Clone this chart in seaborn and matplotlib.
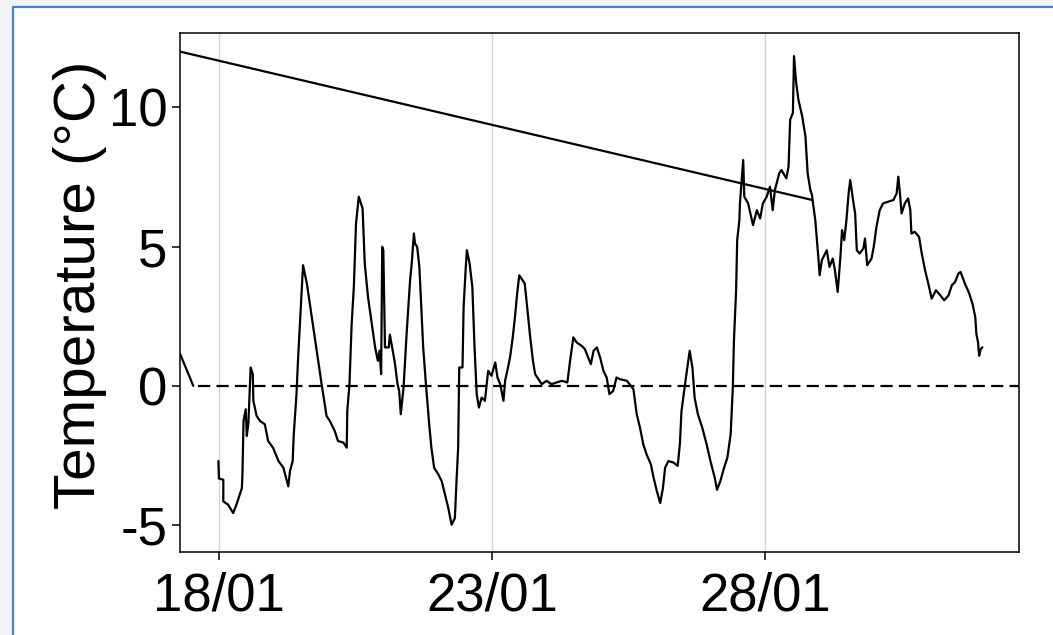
import pandas as pd
import numpy as np
import seaborn as sns
import matplotlib.pyplot as plt
import matplotlib.dates as mdates
from matplotlib.patches import Rectangle

# logger readings, day of January (fractional) and temperature in degC
days = [17.99, 18.00, 18.08, 18.08, 18.17, 18.26, 18.32, 18.42, 18.43, 18.45,
        18.49, 18.51, 18.54, 18.58, 18.62, 18.63, 18.69, 18.75, 18.84, 18.90,
        18.99, 19.09, 19.18, 19.27, 19.30, 19.35, 19.37, 19.42, 19.45, 19.50,
        19.54, 19.61, 19.88, 19.97, 20.03, 20.12, 20.18, 20.28, 20.34, 20.35,
        20.39, 20.43, 20.47, 20.51, 20.56, 20.63, 20.67, 20.73, 20.79, 20.86,
        20.91, 20.94, 20.97, 20.99, 21.01, 21.04, 21.11, 21.13, 21.16, 21.22,
        21.27, 21.30, 21.33, 21.38, 21.44, 21.50, 21.53, 21.57, 21.59, 21.63,
        21.67, 21.71, 21.74, 21.79, 21.85, 21.89, 21.94, 22.02, 22.08, 22.14,
        22.20, 22.26, 22.32, 22.35, 22.38, 22.40, 22.46, 22.48, 22.52, 22.54,
        22.59, 22.64, 22.68, 22.72, 22.76, 22.81, 22.87, 22.93, 22.99, 23.06,
        23.10, 23.15, 23.21, 23.24, 23.28, 23.33, 23.38, 23.42, 23.46, 23.50,
        23.56, 23.60, 23.65, 23.70, 23.75, 23.79, 23.85, 23.91, 24.00, 24.09,
        24.18, 24.28, 24.38, 24.43, 24.49, 24.55, 24.64, 24.70, 24.76, 24.81,
        24.86, 24.92, 24.98, 25.04, 25.10, 25.15, 25.22, 25.28, 25.34, 25.47,
        25.59, 25.65, 25.71, 25.77, 25.83, 25.91, 25.96, 26.02, 26.08, 26.13,
        26.17, 26.23, 26.33, 26.40, 26.44, 26.47, 26.51, 26.56, 26.62, 26.67,
        26.71, 26.77, 26.85, 26.93, 27.00, 27.08, 27.12, 27.18, 27.25, 27.31,
        27.37, 27.41, 27.43, 27.47, 27.49, 27.53, 27.54, 27.60, 27.62, 27.69,
        27.78, 27.85, 27.91, 27.96, 28.03, 28.09, 28.14, 28.18, 28.26, 28.30,
        28.39, 28.43, 28.46, 28.51, 28.53, 28.57, 28.61, 28.68, 28.74, 28.78,
        28.83, 28.86, 28.87, 28.92, 28.95, 28.98, 29.00, 29.04, 29.13, 29.18,
        29.24, 29.28, 29.33, 29.38, 29.41, 29.45, 29.49, 29.53, 29.56, 29.62,
        29.65, 29.68, 29.73, 29.80, 29.83, 29.87, 29.95, 29.99, 30.04, 30.10,
        30.16, 30.25, 30.35, 30.41, 30.44, 30.47, 30.50, 30.56, 30.62, 30.66,
        30.68, 30.74, 30.82, 30.87, 30.93, 30.99, 31.05, 31.13, 31.21, 31.28,
        31.36, 31.42, 31.48, 31.54, 31.58, 31.66, 31.74, 31.80, 31.85, 31.87,
        31.90, 31.92, 31.95, 31.98]
temps = [-2.70, -3.33, -3.37, -4.15, -4.27, -4.57, -4.27, -3.67, -3.19, -1.26,
         -0.84, -1.80, -1.32, 0.66, 0.42, -0.54, -1.08, -1.26, -1.38, -1.98,
         -2.22, -2.70, -2.94, -3.61, -3.07, -2.70, -1.74, -0.30, 1.02, 2.82,
         4.33, 3.67, 0.06, -1.08, -1.26, -1.62, -1.98, -2.04, -2.22, -0.90,
         0.06, 2.22, 3.55, 5.83, 6.79, 6.37, 4.39, 3.18, 2.34, 1.38,
         0.90, 1.26, 0.42, 4.99, 4.87, 1.38, 1.38, 1.84, 1.50, 0.84,
         0.06, -0.18, -1.02, -0.06, 1.98, 3.79, 4.39, 5.47, 5.11, 4.99,
         4.27, 2.59, 1.38, 0.06, -1.38, -2.22, -2.94, -3.19, -3.43, -3.91,
         -4.39, -4.99, -4.75, -3.43, -2.22, 0.66, 0.66, 2.82, 4.27, 4.87,
         4.39, 3.55, 1.38, -0.30, -0.78, -0.42, -0.54, 0.54, 0.36, 0.84,
         0.30, 0.06, -0.54, 0.18, 0.54, 1.02, 1.74, 2.46, 3.31, 3.97,
         3.79, 3.67, 2.70, 1.74, 0.90, 0.42, 0.24, 0.06, 0.18, 0.06,
         0.12, 0.18, 0.12, 0.90, 1.74, 1.56, 1.44, 1.32, 1.02, 0.78,
         1.26, 1.38, 1.02, 0.54, 0.30, -0.30, -0.18, 0.30, 0.24, 0.18,
         -0.12, -1.02, -1.50, -2.10, -2.46, -2.82, -3.31, -3.79, -4.21, -3.67,
         -2.94, -2.70, -2.76, -2.88, -2.10, -0.90, -0.30, 0.42, 1.26, 0.66,
         -0.42, -1.02, -1.50, -2.10, -2.70, -3.31, -3.73, -3.43, -2.94, -2.58,
         -1.74, -0.06, 1.62, 3.43, 5.23, 5.95, 6.55, 8.11, 6.79, 6.55,
         5.77, 6.31, 6.01, 6.55, 6.79, 7.15, 6.31, 7.03, 7.63, 7.75,
         7.45, 7.87, 9.56, 9.80, 11.84, 10.88, 10.28, 9.68, 8.95, 7.63,
         7.03, 6.85, 6.67, 5.95, 5.23, 4.51, 3.97, 4.51, 4.87, 4.27,
         4.57, 4.15, 3.37, 4.63, 5.59, 5.23, 5.95, 6.91, 7.39, 6.55,
         6.19, 4.87, 4.75, 4.93, 5.29, 4.33, 4.57, 4.99, 5.71, 6.31,
         6.55, 6.61, 6.67, 6.91, 7.51, 6.91, 6.19, 6.55, 6.73, 6.31,
         5.47, 5.53, 5.35, 4.75, 4.15, 3.67, 3.13, 3.43, 3.25, 3.07,
         3.25, 3.61, 3.73, 4.03, 4.09, 3.67, 3.31, 2.94, 2.46, 1.86,
         1.56, 1.08, 1.32, 1.38]

# two stray segments that wrap around in the record
stray_a_days = [17.29, 28.87]
stray_a_temps = [12.0, 6.67]
stray_b_days = [17.29, 17.53]
stray_b_temps = [1.14, 0.0]

zero_start = 17.62
tick_days = [18, 23, 28]
x_range = [17.286, 32.65]
y_range = [-5.96, 12.68]


def to_date(d):
    return pd.Timestamp('2021-01-01') + pd.to_timedelta(np.asarray(d) - 1, unit='D')


df = pd.DataFrame({'time': to_date(days), 'temp': temps})
df_a = pd.DataFrame({'time': to_date(stray_a_days), 'temp': stray_a_temps})
df_b = pd.DataFrame({'time': to_date(stray_b_days), 'temp': stray_b_temps})

sns.set_style('white')
plt.rcParams['font.family'] = ['Liberation Sans', 'DejaVu Sans']

fig = plt.figure(figsize=(10.53, 6.35), dpi=100, facecolor='#f3f3f3')
# framed page area
fig.add_artist(Rectangle((13 / 1053, -0.1), 1.2, 1 - 7 / 635 + 0.1,
                         transform=fig.transFigure, facecolor='white',
                         edgecolor='#4a7fd4', linewidth=1.6, zorder=-5))

ax = fig.add_axes([0.1709, 0.1310, 0.9677 - 0.1709, 0.9485 - 0.1310])

ax.grid(axis='x', color='#d4d4d4', linewidth=1.0)
ax.grid(axis='y', visible=False)
ax.set_axisbelow(True)

lw = 1.6
x0, x1 = to_date(x_range)
ax.hlines(0, to_date([zero_start])[0], x1 + pd.Timedelta(days=1), colors='black',
          linestyles=(0, (5.5, 2.8)), linewidth=lw, zorder=2)

for frame in (df, df_a, df_b):
    sns.lineplot(data=frame, x='time', y='temp', color='black', linewidth=lw,
                 sort=False, estimator=None, ax=ax)

ax.set_xlim(x0, x1)
ax.set_ylim(*y_range)
ax.set_xticks(to_date(tick_days))
ax.xaxis.set_major_formatter(mdates.DateFormatter('%d/%m'))
ax.set_yticks([-5, 0, 5, 10])
ax.set_yticklabels(['-5', '0', '5', '10'])

ax.tick_params(axis='both', which='major', length=6, width=1.1, color='black',
               labelsize=38, labelcolor='black', bottom=True, left=True)
ax.tick_params(axis='x', pad=8)
ax.tick_params(axis='y', pad=3)

ax.set_xlabel('')
ax.set_ylabel('Temperature (°C)', fontsize=42, color='black')
ax.yaxis.set_label_coords(-0.087, 0.514)

for s in ax.spines.values():
    s.set_visible(True)
    s.set_color('black')
    s.set_linewidth(1.1)

fig.savefig('out.png', dpi=100, facecolor=fig.get_facecolor())
